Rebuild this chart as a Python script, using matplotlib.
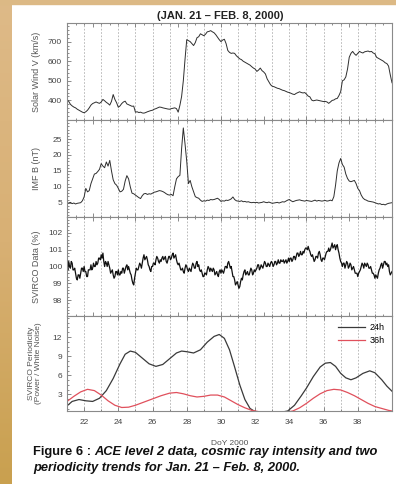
import numpy as np
import matplotlib
matplotlib.use('Agg')
import matplotlib.pyplot as plt
from matplotlib.patches import Rectangle
from matplotlib.colors import LinearSegmentedColormap

plt.rcParams['font.family'] = ['Liberation Sans', 'DejaVu Sans']

# ---- data (DoY 2000, 0.1 day steps from 21.0 to 40.0) ----
day0, day1, step = 21.0, 40.0, 0.1

solar_wind = [
    405, 395, 380, 372, 366, 362, 355, 350, 345, 340,
    337, 342, 350, 362, 376, 384, 388, 392, 388, 385,
    392, 405, 398, 390, 384, 376, 395, 430, 405, 388,
    365, 372, 384, 392, 396, 382, 378, 374, 370, 371,
    340, 342, 338, 340, 336, 335, 338, 342, 345, 348,
    350, 355, 358, 362, 366, 365, 362, 360, 358, 356,
    355, 358, 360, 362, 358, 340, 375, 420, 500, 610,
    710, 705, 700, 690, 680, 695, 720, 725, 740, 735,
    730, 738, 750, 752, 756, 750, 745, 735, 722, 710,
    700, 708, 712, 690, 655, 645, 640, 642, 640, 628,
    620, 612, 608, 600, 595, 590, 585, 580, 572, 565,
    560, 548, 555, 565, 552, 545, 535, 510, 495, 480,
    472, 470, 466, 462, 460, 456, 452, 450, 446, 442,
    440, 436, 432, 430, 436, 440, 444, 440, 438, 440,
    432, 422, 418, 402, 398, 400, 402, 400, 398, 396,
    394, 395, 392, 385, 392, 400, 402, 408, 410, 425,
    445, 500, 505, 520, 560, 620, 640, 650, 638, 630,
    640, 650, 645, 642, 648, 650, 652, 648, 650, 642,
    638, 620, 615, 610, 605, 600, 592, 588, 575, 530,
    490]

imf_b = [
    4.8, 4.9, 5.1, 4.7, 4.9, 4.6, 4.8, 4.9, 5.0, 5.6,
    6.8, 9.5, 8.4, 8.8, 11.0, 12.5, 14.0, 14.2, 14.8, 15.5,
    17.3, 16.5, 16.0, 17.8, 16.5, 18.3, 15.0, 12.2, 11.0, 10.5,
    9.5, 8.4, 8.6, 9.2, 11.8, 13.5, 12.5, 10.0, 8.0, 7.8,
    7.4, 7.0, 6.6, 6.3, 7.2, 7.8, 7.9, 7.6, 7.8, 7.7,
    8.0, 8.3, 8.4, 8.6, 8.8, 8.7, 8.5, 8.2, 7.8, 7.5,
    7.4, 7.6, 7.2, 10.0, 12.5, 13.2, 13.6, 22.0, 28.5, 23.5,
    18.0, 11.0, 12.0, 10.0, 8.5, 6.9, 6.6, 6.4, 5.8, 5.4,
    5.6, 5.5, 5.8, 5.7, 6.0, 5.9, 6.0, 6.2, 6.4, 6.0,
    5.4, 5.6, 5.5, 5.8, 5.7, 5.9, 6.2, 6.8, 6.0, 5.6,
    5.5, 5.4, 5.6, 5.3, 5.4, 5.2, 5.3, 5.1, 5.0, 5.1,
    5.0, 5.1, 4.9, 5.0, 5.1, 5.3, 5.1, 5.0, 5.2, 5.0,
    4.8, 4.9, 5.0, 5.1, 4.9, 5.1, 5.3, 5.2, 5.5, 5.8,
    6.0, 5.6, 5.3, 5.5, 5.7, 5.8, 5.9, 5.7, 5.6, 5.5,
    5.7, 5.6, 5.5, 5.4, 5.6, 5.8, 5.5, 5.7, 5.6, 5.5,
    5.6, 5.7, 5.5, 5.6, 5.8, 5.6, 6.9, 10.5, 15.0, 17.5,
    18.9, 17.0, 16.2, 14.0, 12.6, 11.8, 11.6, 11.8, 12.0, 11.0,
    9.5, 8.8, 7.4, 6.5, 6.0, 5.8, 5.5, 5.4, 5.3, 5.2,
    5.0, 4.8, 4.6, 4.7, 4.4, 4.5, 4.3, 4.6, 4.8, 4.9,
    5.0]

# SVIRCO counts at the full 0.1 day steps ...
svirco = [
    100.0, 100.3, 99.9, 100.2, 99.8, 99.6, 99.2, 99.5, 99.6, 99.9,
    100.0, 99.7, 99.4, 99.8, 100.1, 99.9, 100.0, 100.3, 100.2, 100.5,
    100.7, 100.8, 100.0, 100.2, 100.3, 99.9, 99.7, 99.5, 99.4, 99.7,
    99.8, 99.5, 99.6, 99.9, 99.8, 100.1, 100.0, 99.6, 99.2, 98.9,
    99.6, 99.8, 100.0, 100.1, 100.2, 100.7, 100.5, 100.4, 100.0, 99.7,
    100.0, 100.2, 100.4, 100.5, 100.2, 100.3, 100.6, 100.5, 100.3, 100.4,
    100.6, 100.5, 100.8, 100.6, 100.4, 100.1, 100.0, 99.8, 99.7, 99.9,
    100.0, 99.7, 99.8, 100.0, 100.1, 99.9, 100.3, 100.1, 99.7, 99.6,
    99.4, 99.6, 99.8, 99.9, 99.9, 99.7, 99.8, 99.6, 99.5, 99.7,
    99.6, 99.7, 99.8, 100.0, 100.2, 100.1, 100.0, 99.4, 99.2, 99.0,
    98.9, 98.8, 99.3, 99.5, 99.8, 99.6, 99.5, 99.7, 99.8, 99.6,
    99.7, 99.9, 100.1, 99.9, 100.0, 100.1, 100.2, 100.0, 100.1, 100.2,
    100.2, 100.1, 100.3, 100.2, 100.2, 100.4, 100.3, 100.2, 100.4, 100.3,
    100.3, 100.5, 100.4, 100.6, 100.6, 100.8, 100.7, 100.7, 100.9, 101.0,
    101.1, 101.2, 100.9, 100.6, 100.5, 100.4, 100.6, 100.8, 100.7, 100.3,
    100.5, 100.6, 100.9, 101.1, 101.0, 101.4, 101.2, 101.0, 101.3, 100.8,
    100.3, 100.0, 100.2, 100.1, 100.2, 100.0, 100.1, 99.9, 99.8, 99.6,
    99.4, 99.7, 100.0, 100.1, 100.2, 100.0, 100.1, 99.9, 99.8, 99.6,
    99.3, 99.4, 99.6, 99.9, 100.2, 100.1, 100.3, 100.2, 100.1, 99.5,
    99.7]
# ... and at the half steps in between (21.05, 21.15, ...)
svirco_mid = [
    99.8, 100.0, 100.3, 99.8, 99.9, 99.3, 99.5, 99.3, 99.9, 99.7,
    99.7, 99.4, 99.8, 99.8, 99.8, 100.2, 100.0, 100.1, 100.5, 100.4,
    100.5, 100.3, 100.3, 100.0, 100.1, 99.6, 99.8, 99.3, 99.7, 99.5,
    99.5, 99.7, 99.9, 99.6, 100.0, 99.8, 99.8, 99.5, 99.0, 99.3,
    99.9, 99.8, 100.2, 99.9, 100.5, 100.4, 100.6, 100.1, 99.8, 100.0,
    100.2, 100.1, 100.6, 100.3, 100.4, 100.5, 100.4, 100.6, 100.2, 100.6,
    100.4, 100.7, 100.5, 100.7, 100.2, 100.2, 99.8, 99.9, 99.6, 100.1,
    99.8, 99.9, 99.7, 100.2, 99.9, 100.2, 100.0, 99.8, 99.8, 99.4,
    99.6, 99.5, 100.0, 99.7, 99.8, 99.9, 99.5, 99.7, 99.4, 99.8,
    99.8, 99.6, 100.0, 99.9, 100.3, 99.9, 99.7, 99.4, 98.9, 99.1,
    98.7, 99.1, 99.2, 99.7, 99.5, 99.7, 99.5, 99.9, 99.5, 99.8,
    99.8, 100.1, 99.8, 100.1, 99.9, 100.3, 100.0, 100.2, 100.0, 100.3,
    100.0, 100.3, 100.1, 100.4, 100.2, 100.3, 100.4, 100.3, 100.2, 100.5,
    100.5, 100.3, 100.6, 100.4, 100.8, 100.6, 100.9, 100.7, 100.8, 101.1,
    101.0, 101.0, 100.7, 100.7, 100.3, 100.6, 100.5, 100.9, 100.4, 100.5,
    100.4, 100.8, 100.9, 100.9, 101.2, 101.1, 101.3, 101.2, 101.0, 100.5,
    100.2, 100.2, 99.9, 100.3, 99.9, 100.2, 99.8, 100.0, 99.6, 99.6,
    99.6, 99.8, 100.2, 99.9, 100.1, 100.2, 99.9, 100.0, 99.6, 99.5,
    99.5, 99.3, 99.8, 100.1, 99.9, 100.3, 100.1, 100.0, 99.7, 99.6]

# periodicity trends (power / white noise)
p24_day = [21.0, 21.3, 21.7, 22.1, 22.5, 22.9, 23.3, 23.7, 24.1, 24.4, 24.7, 25.0,
           25.4, 25.8, 26.2, 26.6, 27.0, 27.4, 27.7, 28.0, 28.4, 28.8, 29.2, 29.6,
           29.9, 30.2, 30.5, 30.8, 31.1, 31.4, 31.7, 32.0, 32.5, 33.0, 33.5, 33.9,
           34.3, 34.7, 35.0, 35.4, 35.8, 36.1, 36.4, 36.7, 37.0, 37.3, 37.6, 37.9,
           38.3, 38.7, 39.0, 39.4, 39.7, 40.0]
p24_val = [1.2, 1.9, 2.2, 2.0, 1.9, 2.4, 3.6, 5.5, 7.8, 9.3, 9.8, 9.6,
           8.7, 7.8, 7.4, 7.7, 8.6, 9.5, 9.8, 9.7, 9.5, 10.0, 11.2, 12.1,
           12.4, 11.8, 10.0, 7.3, 4.5, 2.2, 0.8, 0.3, 0.15, 0.15, 0.2, 0.4,
           1.3, 2.8, 4.0, 5.8, 7.3, 7.9, 8.0, 7.4, 6.3, 5.6, 5.3, 5.6,
           6.3, 6.7, 6.4, 5.3, 4.3, 3.5]
p36_day = [21.0, 21.4, 21.8, 22.2, 22.6, 23.0, 23.4, 23.8, 24.2, 24.6, 25.0, 25.5,
           26.0, 26.5, 27.0, 27.4, 27.8, 28.2, 28.6, 29.0, 29.4, 29.8, 30.2, 30.6,
           31.0, 31.4, 31.8, 32.2, 32.6, 33.0, 33.4, 33.8, 34.2, 34.6, 35.0, 35.4,
           35.8, 36.2, 36.6, 37.0, 37.4, 37.8, 38.2, 38.6, 39.0, 39.4, 39.8, 40.0]
p36_val = [1.9, 2.7, 3.4, 3.8, 3.6, 2.9, 2.0, 1.3, 0.95, 1.0, 1.3, 1.8,
           2.3, 2.8, 3.2, 3.3, 3.1, 2.8, 2.6, 2.7, 2.9, 2.9, 2.6, 2.0,
           1.4, 0.9, 0.5, 0.3, 0.25, 0.2, 0.15, 0.2, 0.4, 0.9, 1.6, 2.4,
           3.1, 3.6, 3.8, 3.7, 3.3, 2.8, 2.2, 1.6, 1.1, 0.8, 0.5, 0.4]

days = np.round(np.arange(len(solar_wind)) * step + day0, 2)

# interleave full and half steps for the SVIRCO trace
sv_days = np.empty(2 * len(svirco) - 1)
sv_days[0::2] = days
sv_days[1::2] = days[:-1] + step / 2
sv_vals = np.empty_like(sv_days)
sv_vals[0::2] = svirco
sv_vals[1::2] = svirco_mid

fig = plt.figure(figsize=(3.96, 4.84), dpi=100)
W, H = 396.0, 484.0

# tan page border (left strip gradient + thin top band)
bg = fig.add_axes([0, 0, 12 / W, 1], zorder=-5)
grad = np.linspace(0, 1, 256).reshape(-1, 1)
tan = LinearSegmentedColormap.from_list('tan', ['#deba88', '#d8b074', '#c9a04f'])
bg.imshow(grad, aspect='auto', cmap=tan, extent=[0, 1, 0, 1])
bg.set_axis_off()
fig.patches.append(Rectangle((0, 1 - 3.5 / H), 1, 3.5 / H,
                             transform=fig.transFigure, color='#dcb985', zorder=-4))


def panel(top, bottom):
    return fig.add_axes([67 / W, 1 - bottom / H, 325 / W, (bottom - top) / H])


axes = [panel(23, 120), panel(120, 217), panel(217, 316), panel(316, 411)]
line_col = '#2e2e2e'

axes[0].plot(days, solar_wind, color=line_col, lw=0.7)
axes[0].set_ylim(300, 795)
axes[0].set_yticks([400, 500, 600, 700])
axes[0].set_ylabel('Solar Wind V (km/s)')

axes[1].plot(days, imf_b, color=line_col, lw=0.7)
axes[1].set_ylim(0.5, 31)
axes[1].set_yticks([5, 10, 15, 20, 25])
axes[1].set_ylabel('IMF B (nT)')

axes[2].plot(sv_days, sv_vals, color='#111111', lw=0.9)
axes[2].set_ylim(97.05, 102.95)
axes[2].set_yticks([98, 99, 100, 101, 102])
axes[2].set_ylabel('SVIRCO Data (%)')

axes[3].plot(p24_day, p24_val, color='#3a3a3a', lw=0.9, label='24h')
axes[3].plot(p36_day, p36_val, color='#e0505c', lw=0.9, label='36h')
axes[3].set_ylim(0.4, 15.3)
axes[3].set_yticks([3, 6, 9, 12])
axes[3].set_ylabel('SVIRCO Periodicity\n(Power / White Noise)', linespacing=1.0)
axes[3].legend(loc='upper right', frameon=False, fontsize=6.5, handlelength=3.0,
               handletextpad=0.5, labelspacing=0.4, borderaxespad=0.4)
axes[3].set_xticks(range(22, 40, 2))
axes[3].set_xlabel('DoY 2000', fontsize=6, color='#555555', labelpad=10)

for ax in axes:
    ax.set_xlim(day0, day1)
    for d in range(22, 40):
        ax.axvline(d, color='#b0b0b0', lw=0.6, ls=(0, (2, 2)), zorder=0)
    for s in ax.spines.values():
        s.set_color('#8a8a8a')
        s.set_linewidth(0.8)
    ax.yaxis.label.set_fontsize(6.5)
    ax.yaxis.label.set_color('#555555')
    ax.yaxis.set_label_coords(-0.08, 0.5)
    ax.minorticks_on()
    ax.tick_params(which='both', direction='in', colors='#777777', labelcolor='#444444',
                   labelsize=6, width=0.6, top=True, right=False)
    ax.tick_params(which='major', length=3)
    ax.tick_params(which='minor', length=1.5)
    if ax is not axes[3]:
        ax.tick_params(labelbottom=False)

axes[3].set_xticks(range(21, 40), minor=True)
axes[3].tick_params(axis='x', pad=6)
axes[3].yaxis.label.set_fontsize(6)
axes[3].yaxis.set_label_coords(-0.078, 0.5)

fig.text(220 / W, 1 - 16 / H, '(JAN. 21 \u2013 FEB. 8, 2000)', ha='center', va='center',
         fontsize=8, fontweight='bold', color='#222222')

# caption
cap_y1, cap_y2 = 1 - 452 / H, 1 - 468 / H
t1 = fig.text(33 / W, cap_y1, 'Figure 6 : ', fontsize=9.3, fontweight='bold',
              va='center', color='#111111')
fig.canvas.draw()
bb = t1.get_window_extent()
fig.text(bb.x1 / W, cap_y1, 'ACE level 2 data, cosmic ray intensity and two',
         fontsize=9.3, fontweight='bold', style='italic', va='center', color='#111111')
fig.text(33 / W, cap_y2, 'periodicity trends for Jan. 21 \u2013 Feb. 8, 2000.',
         fontsize=9.3, fontweight='bold', style='italic', va='center', color='#111111')

fig.savefig('out.png', dpi=100)
